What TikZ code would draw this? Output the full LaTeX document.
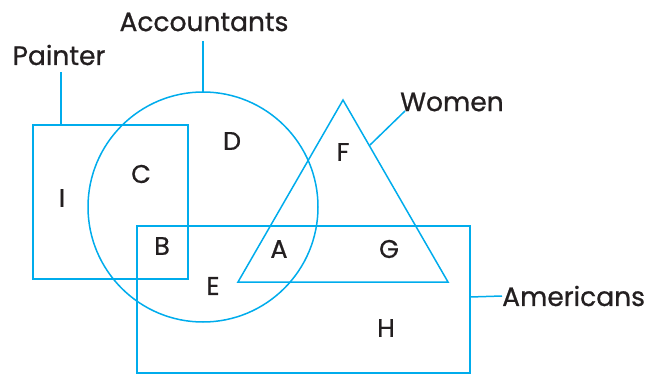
\documentclass[tikz,border=0pt]{standalone}
\usepackage{fontspec}
\setmainfont{Poppins}[FakeBold=0.8]
\usepackage{tikz}
\usetikzlibrary{positioning}
\definecolor{SetBlue}{RGB}{0,172,236}
\definecolor{InkGray}{RGB}{35,31,32}

\begin{document}
\begin{tikzpicture}[x=1pt, y=-1pt,
            setline/.style={draw=SetBlue, line width=1.5pt},
            lbl/.style={text=InkGray, font=\fontsize{26.5}{30}\selectfont, inner sep=0pt},
            reg/.style={text=InkGray, font=\fontsize{25.5}{29}\selectfont, inner sep=0pt}
          ]
          \useasboundingbox (0,0) rectangle (645,374);
          % sets
          \draw[setline] (33,125) rectangle (188,279);
          \draw[setline] (203,207) circle (115pt);
          \draw[setline] (343,100) -- (238,282) -- (448,282) -- cycle;
          \draw[setline] (137,226) rectangle (470,373);
          % anchor points on the sets
          \coordinate (pTop) at (61,125);
          \coordinate (aTop) at (203,92);
          \coordinate (wSide) at (370,145);
          \coordinate (mSide) at (470,297);
          % set names
          \node[lbl] (painter) at (59,55) {Painter};
          \node[lbl] (accnt) at (204,22) {Accountants};
          \node[lbl, anchor=west] (women) at (400,102) {Women};
          \node[lbl, anchor=west] (amer) at (502,296) {Americans};
          \coordinate (pEnd) at (61,72);
          \coordinate (aEnd) at (203,41);
          \coordinate (wEnd) at (405,111);
          \draw[setline] (pEnd) -- (pTop);
          \draw[setline] (aEnd) -- (aTop);
          \draw[setline] (wSide) -- (wEnd);
          \draw[setline] (mSide) -- (amer.west);
          % regions
          \node[reg] (rI) at (62,198) {I};
          \node[reg] (rC) at (141,174) {C};
          \node[reg] (rD) at (232,141) {D};
          \node[reg] (rF) at (343,152) {F};
          \node[reg] (rB) at (162,246) {B};
          \node[reg] (rA) at (279,249) {A};
          \node[reg] (rG) at (389,249) {G};
          \node[reg] (rE) at (213,286) {E};
          \node[reg] (rH) at (386,328) {H};
        \end{tikzpicture}
\end{document}
